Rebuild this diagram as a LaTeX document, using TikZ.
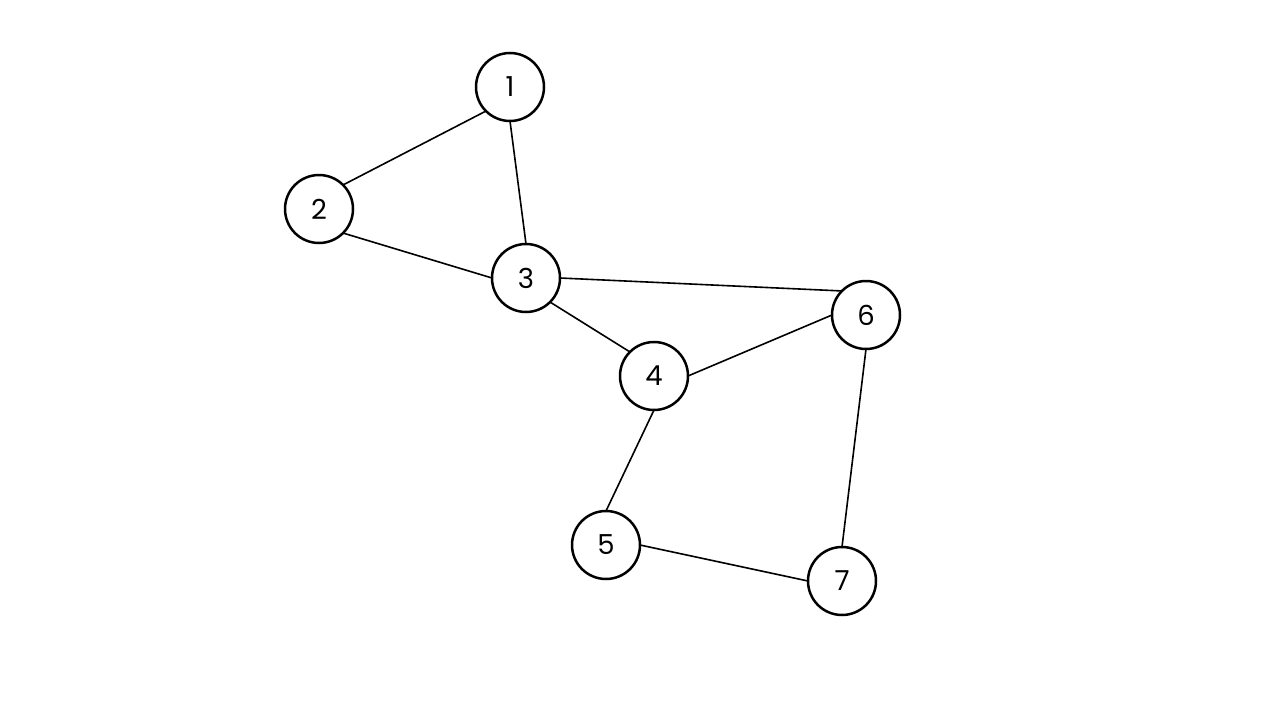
\documentclass[tikz,border=0pt]{standalone}
\usepackage{fontspec}
\setmainfont{Poppins}
\begin{document}
\begin{tikzpicture}[x=1pt,y=-1pt,
  vtx/.style={circle,draw,line width=2.5pt,minimum size=68pt,inner sep=0pt,outer sep=0pt},
  lbl/.style={scale=1.25},
  edge/.style={line width=1.6pt}]
\useasboundingbox (0,0) rectangle (1280,720);
\node[vtx] (n1) at (510,87) {};
\node[vtx] (n2) at (319,209) {};
\node[vtx] (n3) at (526,278) {};
\node[vtx] (n4) at (654,376) {};
\node[vtx] (n5) at (606,545) {};
\node[vtx] (n6) at (866,315) {};
\node[vtx] (n7) at (842,581) {};
\node[lbl] (t1) at (n1) {\fontsize{22}{22}\selectfont 1};
\node[lbl] (t2) at (n2) {\fontsize{22}{22}\selectfont 2};
\node[lbl] (t3) at (n3) {\fontsize{22}{22}\selectfont 3};
\node[lbl] (t4) at (n4) {\fontsize{22}{22}\selectfont 4};
\node[lbl] (t5) at (n5) {\fontsize{22}{22}\selectfont 5};
\node[lbl] (t6) at (n6) {\fontsize{22}{22}\selectfont 6};
\node[lbl] (t7) at (n7) {\fontsize{22}{22}\selectfont 7};
\draw[edge] (n1.south west) -- (n2.north east);
\draw[edge] (n1.south) -- (n3.north);
\draw[edge] (n2.south east) -- (n3.west);
\draw[edge] (n3.south east) -- (n4.north west);
\draw[edge] (n3.east) -- (n6.north west);
\draw[edge] (n4.east) -- (n6.west);
\draw[edge] (n4.south) -- (n5.north);
\draw[edge] (n5.east) -- (n7.west);
\draw[edge] (n6.south) -- (n7.north);
\end{tikzpicture}
\end{document}
